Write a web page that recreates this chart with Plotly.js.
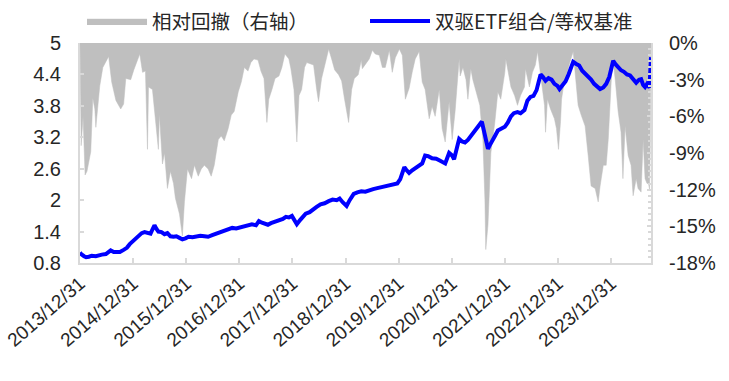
<!DOCTYPE html>
<html>
<head>
<meta charset="utf-8">
<script src="https://cdn.plot.ly/plotly-3.0.1.min.js"></script>
<style>html,body{margin:0;padding:0;background:#fff;}#chart{width:729px;height:381px;}</style>
</head>
<body>
<div id="chart"></div>
<script>
// ---------- data ----------
const seriesNames = ["相对回撤（右轴）", "双驱ETF组合/等权基准"];

const ddDates = ["2013-12-31","2014-01-08","2014-01-21","2014-02-04","2014-02-17","2014-03-02","2014-03-15","2014-03-29","2014-04-12","2014-04-19","2014-05-02","2014-05-16","2014-06-06","2014-07-16","2014-08-06","2014-09-04","2014-10-07","2014-10-27","2014-11-11","2014-12-15",
"2015-01-05","2015-01-25","2015-02-15","2015-03-06","2015-03-26","2015-04-09","2015-04-16","2015-05-13","2015-06-03","2015-06-23","2015-06-30","2015-07-21","2015-08-04","2015-08-24","2015-09-14","2015-10-05","2015-10-18","2015-11-15","2015-12-05","2015-12-19",
"2016-01-09","2016-02-06","2016-02-26","2016-03-23","2016-04-13","2016-05-04","2016-05-30","2016-06-20","2016-07-11","2016-08-08","2016-08-28","2016-09-18","2016-10-15","2016-11-05","2016-11-25","2016-12-23",
"2017-01-13","2017-02-03","2017-02-28","2017-03-20","2017-04-10","2017-05-08","2017-05-28","2017-06-18","2017-07-08","2017-07-21","2017-08-12","2017-09-02","2017-09-29","2017-10-19","2017-11-09","2017-12-06","2017-12-20",
"2018-01-10","2018-01-30","2018-02-14","2018-03-04","2018-03-24","2018-04-08","2018-04-28","2018-05-25","2018-06-15","2018-06-28","2018-07-19","2018-08-09","2018-09-06","2018-09-26","2018-10-17","2018-11-13","2018-12-04","2018-12-24",
"2019-01-21","2019-02-11","2019-03-01","2019-03-28","2019-04-18","2019-04-25","2019-05-16","2019-06-12","2019-07-03","2019-07-23","2019-08-20","2019-09-10","2019-09-30","2019-10-28","2019-11-17","2019-12-08",
"2020-01-05","2020-01-25","2020-02-15","2020-03-12","2020-04-02","2020-04-23","2020-05-20","2020-06-10","2020-06-30","2020-07-28","2020-08-17","2020-09-07","2020-10-05","2020-10-25","2020-11-15","2020-12-12",
"2021-01-02","2021-01-22","2021-02-19","2021-02-26","2021-03-17","2021-04-07","2021-04-20","2021-05-04","2021-05-10","2021-05-24","2021-06-14","2021-07-11","2021-08-01","2021-08-15","2021-08-21","2021-09-05","2021-09-18","2021-09-25","2021-10-22","2021-11-12","2021-12-02","2021-12-30",
"2022-01-06","2022-01-19","2022-02-10","2022-03-07","2022-03-27","2022-04-17","2022-05-14","2022-05-21","2022-06-17","2022-07-08","2022-07-28","2022-08-12","2022-09-02","2022-09-29","2022-10-06","2022-10-19","2022-11-09","2022-12-06","2022-12-20",
"2023-01-03","2023-01-17","2023-01-24","2023-02-07","2023-02-27","2023-03-24","2023-04-14","2023-05-05","2023-05-18","2023-06-08","2023-07-05","2023-07-26","2023-08-15","2023-09-12","2023-10-03","2023-10-16","2023-11-07","2023-11-27","2023-12-11",
"2024-01-02","2024-01-14","2024-01-28","2024-02-17","2024-03-08","2024-03-21","2024-04-05","2024-04-26","2024-05-16","2024-05-30","2024-06-20","2024-07-03","2024-07-24","2024-08-07","2024-08-20","2024-09-03","2024-09-13","2024-09-20","2024-09-24","2024-09-26","2024-09-30"];

const ddValues = [0,-8.4,-6.0,-10.8,-10.5,-9.8,-8.9,-4.5,-5.4,-6.9,-5.0,-3.5,-2.0,-1.1,-3.2,-4.7,-5.4,-5.0,-2.9,-3.0,
-2.2,-1.6,-0.9,-2.4,-2.3,-8.7,-3.6,-3.8,-6.5,-8.7,-5.8,-9.9,-9.0,-11.9,-10.5,-11.5,-12.7,-14.0,-15.8,-13.0,
-10.3,-11.1,-10.0,-10.9,-10.3,-10.0,-10.3,-10.9,-10.0,-7.9,-7.6,-8.0,-7.0,-5.9,-5.6,-4.0,
-3.2,-2.0,-2.3,-1.6,-1.3,-1.4,-2.3,-2.9,-6.5,-4.6,-3.8,-2.9,-2.7,-2.0,-0.9,-1.3,-2.1,
-3.8,-8.1,-4.3,-3.8,-2.0,-1.6,-1.7,-1.8,-3.8,-4.8,-2.9,-1.8,-0.5,-1.3,-2.2,-2.6,-3.1,-4.6,
-6.5,-3.8,-2.9,-2.6,-1.4,-2.1,-1.7,-1.3,-0.6,-0.9,-1.0,-2.0,-2.0,-0.6,-2.4,-1.2,
-0.5,-1.0,-4.6,-3.7,-2.4,-1.3,-0.7,-3.2,-3.8,-6.2,-5.2,-6.0,-3.8,-7.0,-8.1,-4.8,
-7.9,-5.6,-1.3,-2.7,-2.0,-3.0,-4.6,-2.5,-2.1,-3.0,-4.0,-5.1,-7.9,-12.8,-16.9,-14.9,-11.1,-9.0,-6.5,-4.0,-4.6,-2.4,
-1.3,-2.2,-3.6,-4.3,-5.1,-4.3,-3.6,-2.1,-3.6,-2.4,-1.8,-0.7,-2.7,-5.1,-7.3,-4.6,-5.4,-6.2,-7.0,
-8.7,-6.4,-4.6,-3.5,-2.5,-1.5,-0.7,-3.2,-5.1,-5.9,-6.8,-9.2,-11.7,-11.9,-13.0,-11.7,-10.0,-10.0,-7.9,
-2.8,-1.5,-3.0,-5.6,-7.3,-11.1,-6.8,-9.2,-10.0,-12.5,-11.1,-11.9,-12.2,-7.9,-11.1,-11.5,-11.5,-12.0,-9.0,-4.0,0];

const navDates = ["2013-12-31","2014-01-08","2014-01-28","2014-02-11","2014-03-02","2014-03-22","2014-04-19","2014-05-09","2014-05-30","2014-06-27","2014-07-16","2014-07-30","2014-08-20","2014-09-11","2014-10-01","2014-10-27","2014-11-18","2014-12-08","2014-12-29",
"2015-01-18","2015-02-08","2015-02-28","2015-03-20","2015-04-09","2015-04-30","2015-05-13","2015-05-27","2015-06-10","2015-06-23","2015-07-14","2015-08-04","2015-08-24","2015-09-14","2015-10-05","2015-10-25","2015-11-15","2015-12-05","2015-12-26",
"2016-01-16","2016-02-13","2016-03-10","2016-04-06","2016-05-04","2016-05-30","2016-06-27","2016-07-24","2016-08-21","2016-09-18","2016-10-15","2016-11-12","2016-12-09",
"2017-01-05","2017-02-03","2017-02-28","2017-03-27","2017-04-24","2017-05-14","2017-06-04","2017-06-25","2017-07-15","2017-08-05","2017-08-26","2017-09-15","2017-10-06","2017-10-26","2017-11-16","2017-12-06","2017-12-27",
"2018-01-17","2018-01-30","2018-02-21","2018-03-11","2018-04-01","2018-04-28","2018-05-25","2018-06-15","2018-07-12","2018-08-09","2018-09-06","2018-10-03","2018-10-31","2018-11-20","2018-12-11",
"2019-01-07","2019-01-28","2019-02-25","2019-03-22","2019-04-18","2019-05-16","2019-06-12","2019-07-09","2019-08-06","2019-09-03","2019-09-30","2019-10-28","2019-11-24","2019-12-22",
"2020-01-11","2020-02-01","2020-02-08","2020-02-21","2020-03-12","2020-04-02","2020-04-29","2020-05-20","2020-06-10","2020-06-30","2020-07-21","2020-08-17","2020-09-14","2020-10-05","2020-10-25","2020-11-15","2020-12-12",
"2021-01-02","2021-01-15","2021-02-05","2021-02-19","2021-03-11","2021-03-31","2021-04-20","2021-05-10","2021-05-31","2021-06-21","2021-07-11","2021-07-25","2021-08-08","2021-08-21","2021-09-05","2021-09-18","2021-10-02","2021-10-22","2021-11-12","2021-12-02","2021-12-30",
"2022-01-19","2022-02-10","2022-03-02","2022-03-27","2022-04-17","2022-05-14","2022-06-03","2022-06-24","2022-07-15","2022-08-05","2022-08-19","2022-09-02","2022-09-16","2022-10-06","2022-10-26","2022-11-16","2022-12-06","2022-12-27",
"2023-01-10","2023-01-31","2023-02-21","2023-03-13","2023-04-03","2023-04-14","2023-05-05","2023-05-25","2023-06-15","2023-07-05","2023-07-26","2023-08-15","2023-09-05","2023-09-26","2023-10-16","2023-11-07","2023-11-27","2023-12-18",
"2024-01-01","2024-01-14","2024-01-28","2024-02-17","2024-03-08","2024-03-28","2024-04-18","2024-05-09","2024-05-30","2024-06-20","2024-07-10","2024-07-24","2024-08-07","2024-08-20","2024-09-03","2024-09-13","2024-09-20","2024-09-24","2024-09-30"];

const navValues = [1.00,0.97,0.93,0.91,0.92,0.94,0.93,0.95,0.96,0.97,1.02,1.04,1.01,1.00,1.01,1.05,1.09,1.16,1.22,
1.28,1.33,1.37,1.39,1.38,1.36,1.44,1.52,1.45,1.40,1.39,1.35,1.37,1.31,1.30,1.31,1.28,1.25,1.27,
1.30,1.29,1.31,1.32,1.31,1.30,1.33,1.36,1.39,1.42,1.44,1.47,1.46,
1.48,1.50,1.52,1.54,1.52,1.60,1.57,1.55,1.53,1.56,1.58,1.60,1.62,1.64,1.68,1.67,1.70,
1.62,1.54,1.62,1.68,1.74,1.77,1.84,1.87,1.92,1.94,1.98,2.01,2.00,2.03,1.96,
1.89,2.00,2.12,2.15,2.17,2.16,2.19,2.21,2.23,2.25,2.27,2.29,2.30,2.32,
2.40,2.55,2.63,2.58,2.52,2.57,2.62,2.64,2.70,2.85,2.84,2.80,2.79,2.76,2.74,2.70,2.90,
2.85,2.78,3.05,3.17,3.12,3.10,3.15,3.23,3.30,3.38,3.45,3.50,3.33,3.12,2.98,3.05,3.11,3.22,3.33,3.36,3.40,
3.48,3.60,3.66,3.68,3.66,3.72,3.90,3.97,3.99,4.10,4.25,4.40,4.36,4.28,4.33,4.30,4.22,4.18,
4.12,4.20,4.27,4.40,4.55,4.64,4.60,4.57,4.47,4.42,4.36,4.30,4.22,4.16,4.12,4.15,4.22,4.35,
4.50,4.66,4.60,4.54,4.48,4.45,4.40,4.38,4.30,4.24,4.30,4.31,4.20,4.16,4.22,4.18,4.15,4.40,4.73];

const xTickVals = ["2013-12-31","2014-12-31","2015-12-31","2016-12-31","2017-12-31","2018-12-31","2019-12-31","2020-12-31","2021-12-31","2022-12-31","2023-12-31"];
const xTickText = ["2013/12/31","2014/12/31","2015/12/31","2016/12/31","2017/12/31","2018/12/31","2019/12/31","2020/12/31","2021/12/31","2022/12/31","2023/12/31"];
const leftTickVals = [0.8,1.4,2,2.6,3.2,3.8,4.4,5];
const leftTickText = ["0.8","1.4","2","2.6","3.2","3.8","4.4","5"];
const rightTickVals = [-18,-15,-12,-9,-6,-3,0];
const rightTickText = ["-18%","-15%","-12%","-9%","-6%","-3%","0%"];

// ---------- chart ----------
const tickFont = {family: "Liberation Sans, Arial, sans-serif", size: 20, color: "#262626"};
const xTickFont = {family: "Liberation Sans, Arial, sans-serif", size: 19, color: "#262626"};
const legendFont = {family: "Noto Sans CJK SC, sans-serif", size: 19.5, color: "#262626"};
const axisGray = "#D9D9D9";

const traces = [
  {
    type: "scatter", mode: "lines", name: seriesNames[0], legend: "legend",
    x: ddDates, y: ddValues, yaxis: "y",
    fill: "tozeroy", fillcolor: "#BFBFBF",
    line: {color: "#BFBFBF", width: 0.5},
    hoverinfo: "skip"
  },
  {
    type: "scatter", mode: "lines", name: seriesNames[1], legend: "legend2",
    x: navDates, y: navValues, yaxis: "y2",
    line: {color: "#0000FF", width: 4},
    hoverinfo: "skip"
  }
];

const layout = {
  width: 729, height: 381,
  margin: {l: 80, r: 78, t: 43, b: 118},
  paper_bgcolor: "#ffffff", plot_bgcolor: "#ffffff",
  showlegend: true,
  legend: {
    orientation: "h", xref: "container", yref: "container",
    x: 0.1125, y: 0.995, xanchor: "left", yanchor: "top",
    font: legendFont, itemwidth: 60, bgcolor: "rgba(0,0,0,0)"
  },
  legend2: {
    orientation: "h", xref: "container", yref: "container",
    x: 0.5007, y: 0.995, xanchor: "left", yanchor: "top",
    font: legendFont, itemwidth: 60, bgcolor: "rgba(0,0,0,0)"
  },
  xaxis: {
    type: "date", range: ["2013-12-31", "2024-09-30"],
    tickmode: "array", tickvals: xTickVals, ticktext: xTickText,
    tickangle: -41, tickfont: xTickFont,
    showline: true, linecolor: axisGray, linewidth: 2,
    ticks: "inside", ticklen: 5, tickcolor: axisGray, tickwidth: 2,
    showgrid: false, zeroline: false
  },
  yaxis: {
    side: "right", range: [-18, 0],
    tickmode: "array", tickvals: rightTickVals, ticktext: rightTickText,
    tickfont: tickFont, ticklabelstandoff: 12,
    showline: true, linecolor: axisGray, linewidth: 2,
    ticks: "inside", ticklen: 4, tickcolor: axisGray, tickwidth: 2,
    minor: {dtick: 0.5, ticks: "inside", ticklen: 3, tickcolor: axisGray, tickwidth: 2},
    showgrid: false, zeroline: false
  },
  yaxis2: {
    side: "left", overlaying: "y", range: [0.8, 5],
    tickmode: "array", tickvals: leftTickVals, ticktext: leftTickText,
    tickfont: tickFont, ticklabelstandoff: 13,
    showline: true, linecolor: axisGray, linewidth: 2,
    ticks: "inside", ticklen: 4, tickcolor: axisGray, tickwidth: 2,
    showgrid: false, zeroline: false
  }
};

Plotly.newPlot("chart", traces, layout, {displayModeBar: false, staticPlot: true});
</script>
</body>
</html>
